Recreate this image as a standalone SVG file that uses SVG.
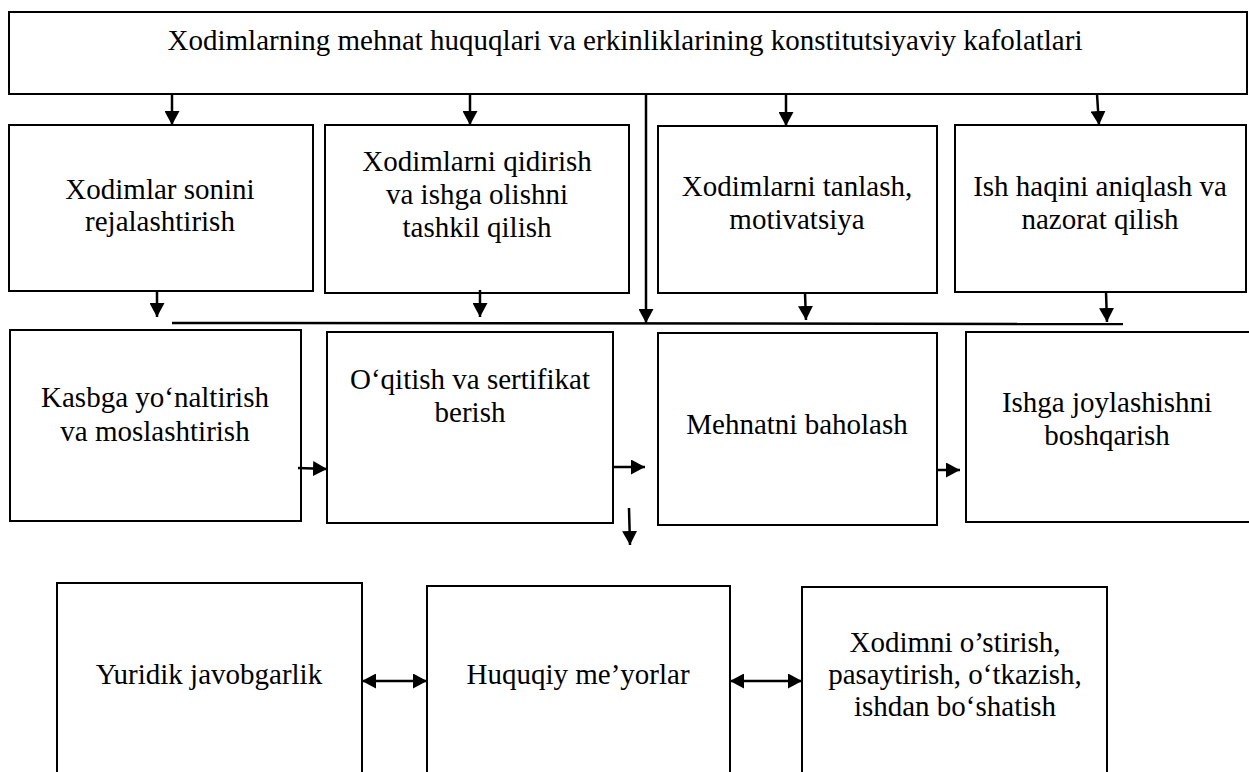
<svg xmlns="http://www.w3.org/2000/svg" width="1249" height="772" viewBox="0 0 1249 772" font-family="'Liberation Serif', 'Times New Roman', serif">
  <style>
    .box { fill: #fff; stroke: #000; stroke-width: 2; }
    .lbl { font-family: 'Liberation Serif', 'Times New Roman', serif; font-size: 29px; fill: #000; text-anchor: middle; }
    .conn { stroke: #000; stroke-width: 2.5; fill: none; }
    .arr { marker-end: url(#head); }
    .dbl { marker-start: url(#head); marker-end: url(#head); }
  </style>
  <defs>
    <marker id="head" viewBox="0 0 14 15" refX="14" refY="7.5" markerWidth="14" markerHeight="15" markerUnits="userSpaceOnUse" orient="auto-start-reverse">
      <path d="M0,0 L14,7.5 L0,15 z" fill="#000"/>
    </marker>
  </defs>
  <rect width="1249" height="772" fill="#fff"/>

  <!-- top-level box -->
  <g id="root">
    <rect class="box" x="9" y="12" width="1238" height="82"/>
    <text class="lbl" x="625" y="50">Xodimlarning mehnat huquqlari va erkinliklarining konstitutsiyaviy kafolatlari</text>
  </g>

  <!-- second row -->
  <g id="planning">
    <rect class="box" x="9" y="125" width="304" height="166"/>
    <text class="lbl" x="160" y="199">Xodimlar sonini</text>
    <text class="lbl" x="160" y="231">rejalashtirish</text>
  </g>
  <g id="recruiting">
    <rect class="box" x="325" y="125" width="304" height="168"/>
    <text class="lbl" x="477" y="171">Xodimlarni qidirish</text>
    <text class="lbl" x="477" y="204">va ishga olishni</text>
    <text class="lbl" x="477" y="237">tashkil qilish</text>
  </g>
  <g id="selection">
    <rect class="box" x="658" y="126" width="279" height="167"/>
    <text class="lbl" x="797" y="196">Xodimlarni tanlash,</text>
    <text class="lbl" x="797" y="229">motivatsiya</text>
  </g>
  <g id="wages">
    <rect class="box" x="955" y="125" width="291" height="167"/>
    <text class="lbl" x="1100" y="196">Ish haqini aniqlash va</text>
    <text class="lbl" x="1100" y="229">nazorat qilish</text>
  </g>

  <!-- third row -->
  <g id="orientation">
    <rect class="box" x="10" y="330" width="291" height="191"/>
    <text class="lbl" x="155" y="407">Kasbga yo‘naltirish</text>
    <text class="lbl" x="155" y="441">va moslashtirish</text>
  </g>
  <g id="training">
    <rect class="box" x="327" y="332" width="286" height="191"/>
    <text class="lbl" x="470" y="389">O‘qitish va sertifikat</text>
    <text class="lbl" x="470" y="422">berish</text>
  </g>
  <g id="appraisal">
    <rect class="box" x="658" y="333" width="279" height="192"/>
    <text class="lbl" x="797" y="434">Mehnatni baholash</text>
  </g>
  <g id="placement">
    <rect class="box" x="966" y="332" width="284" height="190"/>
    <text class="lbl" x="1107" y="412">Ishga joylashishni</text>
    <text class="lbl" x="1107" y="445">boshqarish</text>
  </g>

  <!-- bottom row -->
  <g id="liability">
    <rect class="box" x="57" y="583" width="305" height="200"/>
    <text class="lbl" x="209" y="684">Yuridik javobgarlik</text>
  </g>
  <g id="norms">
    <rect class="box" x="427" y="586" width="303" height="200"/>
    <text class="lbl" x="578" y="684">Huquqiy me’yorlar</text>
  </g>
  <g id="career">
    <rect class="box" x="802" y="587" width="305" height="200"/>
    <text class="lbl" x="955" y="652">Xodimni o’stirish,</text>
    <text class="lbl" x="955" y="684">pasaytirish, o‘tkazish,</text>
    <text class="lbl" x="955" y="716">ishdan bo‘shatish</text>
  </g>

  <!-- connectors -->
  <g id="connectors">
    <line class="conn arr" x1="172" y1="94" x2="172" y2="125"/>
    <line class="conn arr" x1="470" y1="94" x2="470" y2="125"/>
    <line class="conn arr" x1="786" y1="94" x2="786" y2="126"/>
    <line class="conn arr" x1="1097" y1="94" x2="1099" y2="125"/>
    <line class="conn arr" x1="646" y1="94" x2="646" y2="323"/>

    <line class="conn arr" x1="157" y1="291" x2="157" y2="317"/>
    <line class="conn arr" x1="480" y1="290" x2="480" y2="317"/>
    <line class="conn arr" x1="805" y1="293" x2="806" y2="320"/>
    <line class="conn arr" x1="1106" y1="292" x2="1107" y2="322"/>
    <line class="conn" x1="172" y1="323" x2="1123" y2="324"/>

    <line class="conn arr" x1="298" y1="468" x2="327" y2="469"/>
    <line class="conn arr" x1="613" y1="467" x2="645" y2="467"/>
    <line class="conn arr" x1="937" y1="470" x2="960" y2="470"/>
    <line class="conn arr" x1="629" y1="508" x2="630" y2="545"/>

    <line class="conn dbl" x1="362" y1="681" x2="427" y2="681"/>
    <line class="conn dbl" x1="730" y1="681" x2="802" y2="681"/>
  </g>
</svg>
